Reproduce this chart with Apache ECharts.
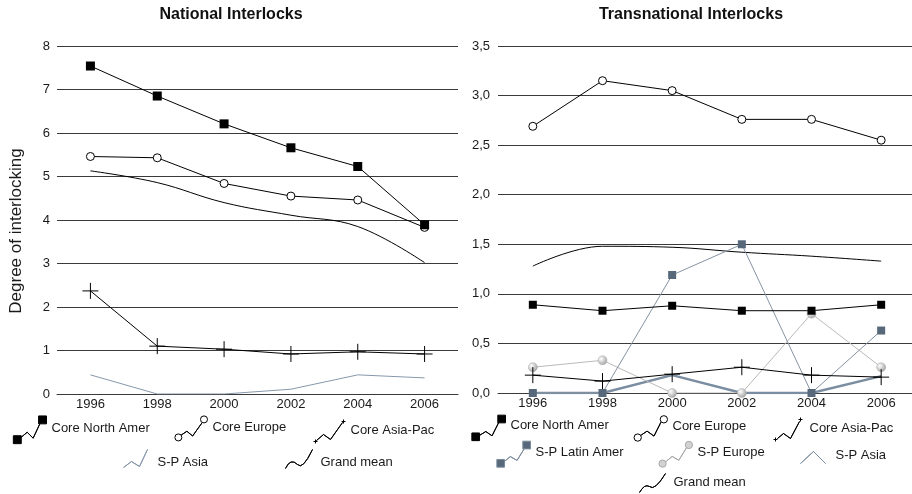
<!DOCTYPE html>
<html><head><meta charset="utf-8">
<script src="https://cdn.jsdelivr.net/npm/echarts@6/dist/echarts.min.js"></script>
<style>html,body{margin:0;padding:0;background:#fff}#c{width:912px;height:494px}</style>
</head><body><div id="c"></div>
<script>
// ---- data ----
const years = ['1996', '1998', '2000', '2002', '2004', '2006'];
const natYTicks = [0, 1, 2, 3, 4, 5, 6, 7, 8];
const transYTicks = [0, 0.5, 1, 1.5, 2, 2.5, 3, 3.5];

const natCoreNorthAmer = [7.54, 6.85, 6.21, 5.66, 5.23, 3.89];
const natCoreEurope    = [5.46, 5.43, 4.84, 4.55, 4.46, 3.83];
const natCoreAsiaPac   = [2.37, 1.10, 1.03, 0.92, 0.97, 0.92];
const natSPAsia        = [0.44, 0.00, 0.00, 0.11, 0.44, 0.37];
const natGrandMean     = [5.13, 4.86, 4.40, 4.11, 3.85, 3.02];

const transCoreNorthAmer = [0.89, 0.83, 0.88, 0.83, 0.83, 0.89];
const transCoreEurope    = [2.69, 3.15, 3.05, 2.76, 2.76, 2.55];
const transCoreAsiaPac   = [0.18, 0.12, 0.19, 0.26, 0.18, 0.16];
const transSPLatinAmer   = [0.00, 0.00, 1.19, 1.50, 0.00, 0.63];
const transSPEurope      = [0.26, 0.33, 0.00, 0.00, 0.80, 0.26];
const transSPAsia        = [0.00, 0.00, 0.18, 0.00, 0.00, 0.17];
const transGrandMean     = [1.28, 1.48, 1.47, 1.42, 1.38, 1.33];

// ---- styling ----
const FONT = 'Liberation Sans, Arial, Helvetica, sans-serif';
const TXT = '#1a1a1a';
const GRIDC = '#3a3a3a';
const SLATE = '#56687a';
const SLATE_LINE = '#8593a2';
const ASIA_LEFT = '#8798ab';
const ASIA_RIGHT = '#7b8da0';
const PLUS = 'path://M0 8 L16 8 M8 0 L8 16';
const sphere = {type: 'radial', x: 0.35, y: 0.35, r: 0.75,
  colorStops: [{offset: 0, color: '#ffffff'}, {offset: 1, color: '#9a9a9a'}]};

// ---- legend icons (drawn as paths) ----
const IW = 50, IH = 40;
function iconMaker(tx, ty) {
  const ox = tx - IW - 5, oy = ty - IH / 2;
  const X = x => (x - ox).toFixed(1), Y = y => (y - oy).toFixed(1);
  return {
    ox, oy,
    sq(cx, cy, s) { const h = s / 2; return `M${X(cx-h)} ${Y(cy-h)} L${X(cx+h)} ${Y(cy-h)} L${X(cx+h)} ${Y(cy+h)} L${X(cx-h)} ${Y(cy+h)} Z `; },
    circ(cx, cy, r) { return `M${X(cx-r)} ${Y(cy)} A${r} ${r} 0 1 0 ${X(cx+r)} ${Y(cy)} A${r} ${r} 0 1 0 ${X(cx-r)} ${Y(cy)} Z `; },
    plus(cx, cy, h) { return `M${X(cx-h)} ${Y(cy)} L${X(cx+h)} ${Y(cy)} M${X(cx)} ${Y(cy-h)} L${X(cx)} ${Y(cy+h)} `; },
    poly(pts) {
      let s = `M${X(pts[0][0])} ${Y(pts[0][1])}`;
      for (let i = 1; i < pts.length; i++) s += ` L${X(pts[i][0])} ${Y(pts[i][1])}`;
      for (let i = pts.length - 2; i >= 0; i--) s += ` L${X(pts[i][0])} ${Y(pts[i][1])}`;
      return s + ' ';
    },
    curve(s0, c1, p1, c2, p2) {
      const P = p => `${X(p[0])} ${Y(p[1])}`;
      return `M${P(s0)} Q${P(c1)} ${P(p1)} Q${P(c2)} ${P(p2)} Q${P(c2)} ${P(p1)} Q${P(c1)} ${P(s0)} `;
    },
    finish(body) { return 'path://M0 0 M' + IW + ' ' + IH + ' ' + body; }
  };
}

function legendItem(name, tx, ty, draw, itemStyle) {
  const m = iconMaker(tx, ty);
  return {
    left: m.ox, top: m.oy, padding: 0, itemWidth: IW, itemHeight: IH,
    textStyle: {fontFamily: FONT, fontSize: 13, color: TXT},
    data: [{name: name, icon: m.finish(draw(m)), itemStyle: itemStyle}]
  };
}

const stBlackFill = {color: '#000', borderColor: '#000', borderWidth: 1};
const stOpen = {color: '#fff', borderColor: '#000', borderWidth: 1};
const stLine = {color: 'none', borderColor: '#000', borderWidth: 1};

const legends = [
  // left chart
  legendItem('Core North Amer', 51, 428, m => m.sq(17, 439.5, 8) + m.sq(42.5, 419.5, 8) + m.poly([[21,437],[27,432],[33,438],[40,423]]), stBlackFill),
  legendItem('Core Europe', 212, 428, m => m.circ(179, 438.5, 3.7) + m.circ(206, 419.5, 3.7) + m.poly([[182,436],[188,432],[194,437],[204,423]]), stOpen),
  legendItem('Core Asia-Pac', 348, 428, m => m.plus(313, 439, 2) + m.plus(341, 419, 2) + m.poly([[314,438],[321,432],[328,437],[340,420]]), stLine),
  legendItem('S-P Asia', 155, 460, m => m.poly([[121,465],[129,459],[137,464],[145,447]]), {color: 'none', borderColor: ASIA_LEFT, borderWidth: 1}),
  legendItem('Grand mean', 318, 460, m => m.curve([283,466],[288,455],[295,462],[300,468],[310,447]), stLine),
  // right chart
  legendItem('Core North Amer', 510, 426, m => m.sq(476, 437.5, 8) + m.sq(503, 419, 8) + m.poly([[480,436],[486.5,432],[493,436.5],[500,422.5]]), stBlackFill),
  legendItem('Core Europe', 672, 426, m => m.circ(637.5, 437.5, 3.7) + m.circ(664, 419, 3.7) + m.poly([[641,435],[647,431],[654,436],[661,422]]), stOpen),
  legendItem('Core Asia-Pac', 807, 426, m => m.plus(773, 437, 2) + m.plus(798, 417, 2) + m.poly([[775,436],[781,431],[788,436],[797,419]]), stLine),
  legendItem('S-P Latin Amer', 535, 453, m => m.sq(501, 464, 8) + m.sq(528, 445, 8) + m.poly([[505,462],[511,457],[518,461],[526,448]]), {color: SLATE, borderColor: '#7b8a99', borderWidth: 1}),
  legendItem('S-P Europe', 697, 453, m => m.circ(663, 464.5, 3.8) + m.circ(690.5, 445, 3.8) + m.poly([[667,462],[673,457],[680,461],[688,448]]), {color: '#d2d2d2', borderColor: '#a9a9a9', borderWidth: 1}),
  legendItem('S-P Asia', 833, 453, m => m.poly([[798,461],[811,449],[823,461]]), {color: 'none', borderColor: ASIA_RIGHT, borderWidth: 1}),
  legendItem('Grand mean', 671, 480, m => m.curve([637,490],[642,481],[647,484],[652,489],[663,471]), stLine)
];

// ---- axes ----
const axisLabelStyle = {fontFamily: FONT, fontSize: 13, color: TXT};
function xAxis(gridIndex) {
  return {
    type: 'category', gridIndex, data: years, boundaryGap: true,
    axisLine: {show: true, lineStyle: {color: GRIDC, width: 1}},
    axisTick: {show: false},
    axisLabel: Object.assign({margin: 4, interval: 0}, axisLabelStyle),
    splitLine: {show: false}
  };
}
const yAxes = [
  {
    type: 'value', gridIndex: 0, min: natYTicks[0], max: natYTicks[natYTicks.length - 1], interval: 1,
    axisLine: {show: false}, axisTick: {show: false},
    axisLabel: Object.assign({margin: 7}, axisLabelStyle),
    splitLine: {show: true, lineStyle: {color: GRIDC, width: 1}},
    name: 'Degree of interlocking', nameLocation: 'middle', nameRotate: 90, nameGap: 32,
    nameTextStyle: {fontFamily: FONT, fontSize: 17, color: TXT, padding: [0, 22, 0, 0]}
  },
  {
    type: 'value', gridIndex: 1, min: transYTicks[0], max: transYTicks[transYTicks.length - 1], interval: 0.5,
    axisLine: {show: false}, axisTick: {show: false},
    axisLabel: Object.assign({margin: 8, formatter: v => v.toFixed(1).replace('.', ',')}, axisLabelStyle),
    splitLine: {show: true, lineStyle: {color: GRIDC, width: 1}}
  }
];

function lineSeries(name, gi, data, opts) {
  return Object.assign({
    name, type: 'line', xAxisIndex: gi, yAxisIndex: gi, data,
    animation: false, emphasis: {disabled: true}, silent: true
  }, opts);
}

const series = [
  // national
  lineSeries('S-P Asia', 0, natSPAsia, {symbol: 'none', color: ASIA_LEFT, lineStyle: {color: ASIA_LEFT, width: 1}}),
  lineSeries('Grand mean', 0, natGrandMean, {symbol: 'none', smooth: 0.4, color: '#000', lineStyle: {color: '#000', width: 1}}),
  lineSeries('Core Asia-Pac', 0, natCoreAsiaPac, {symbol: PLUS, symbolSize: 16, color: '#000', lineStyle: {color: '#000', width: 1}, itemStyle: {color: 'none', borderColor: '#000', borderWidth: 1}}),
  lineSeries('Core Europe', 0, natCoreEurope, {symbol: 'circle', symbolSize: 8, color: '#000', lineStyle: {color: '#000', width: 1}, itemStyle: {color: '#fff', borderColor: '#000', borderWidth: 1}}),
  lineSeries('Core North Amer', 0, natCoreNorthAmer, {symbol: 'rect', symbolSize: 9, color: '#000', lineStyle: {color: '#000', width: 1}, itemStyle: {color: '#000'}}),
  // transnational
  lineSeries('S-P Asia', 1, transSPAsia, {symbol: 'none', color: ASIA_RIGHT, lineStyle: {color: ASIA_RIGHT, width: 2.5}}),
  lineSeries('Grand mean', 1, transGrandMean, {symbol: 'none', smooth: 0.4, color: '#000', lineStyle: {color: '#000', width: 1}}),
  lineSeries('S-P Europe', 1, transSPEurope, {symbol: 'circle', symbolSize: 9, color: '#bbb', lineStyle: {color: '#b9b9b9', width: 1}, itemStyle: {color: sphere, borderColor: '#aaa', borderWidth: 0.5}}),
  lineSeries('S-P Latin Amer', 1, transSPLatinAmer, {symbol: 'rect', symbolSize: 8, color: SLATE, lineStyle: {color: SLATE_LINE, width: 1}, itemStyle: {color: SLATE}}),
  lineSeries('Core Asia-Pac', 1, transCoreAsiaPac, {symbol: PLUS, symbolSize: 16, color: '#000', lineStyle: {color: '#000', width: 1}, itemStyle: {color: 'none', borderColor: '#000', borderWidth: 1}}),
  lineSeries('Core North Amer', 1, transCoreNorthAmer, {symbol: 'rect', symbolSize: 8, color: '#000', lineStyle: {color: '#000', width: 1}, itemStyle: {color: '#000'}}),
  lineSeries('Core Europe', 1, transCoreEurope, {symbol: 'circle', symbolSize: 8, color: '#000', lineStyle: {color: '#000', width: 1}, itemStyle: {color: '#fff', borderColor: '#000', borderWidth: 1}})
];

const option = {
  backgroundColor: '#ffffff',
  animation: false,
  textStyle: {fontFamily: FONT},
  title: [
    {text: 'National Interlocks', left: 231, top: 7, textAlign: 'center', padding: 0,
     textStyle: {fontFamily: FONT, fontSize: 16, fontWeight: 'bold', color: '#111'}},
    {text: 'Transnational Interlocks', left: 691, top: 7, textAlign: 'center', padding: 0,
     textStyle: {fontFamily: FONT, fontSize: 16, fontWeight: 'bold', color: '#111'}}
  ],
  grid: [
    {left: 57, right: 454, top: 46, bottom: 100, outerBoundsMode: 'none', containLabel: false},
    {left: 498, right: -4, top: 46, bottom: 101, outerBoundsMode: 'none', containLabel: false}
  ],
  xAxis: [xAxis(0), xAxis(1)],
  yAxis: yAxes,
  legend: legends,
  tooltip: {show: false},
  series
};

const chart = echarts.init(document.getElementById('c'), null, {renderer: 'canvas'});
chart.setOption(option);
</script>
</body></html>
